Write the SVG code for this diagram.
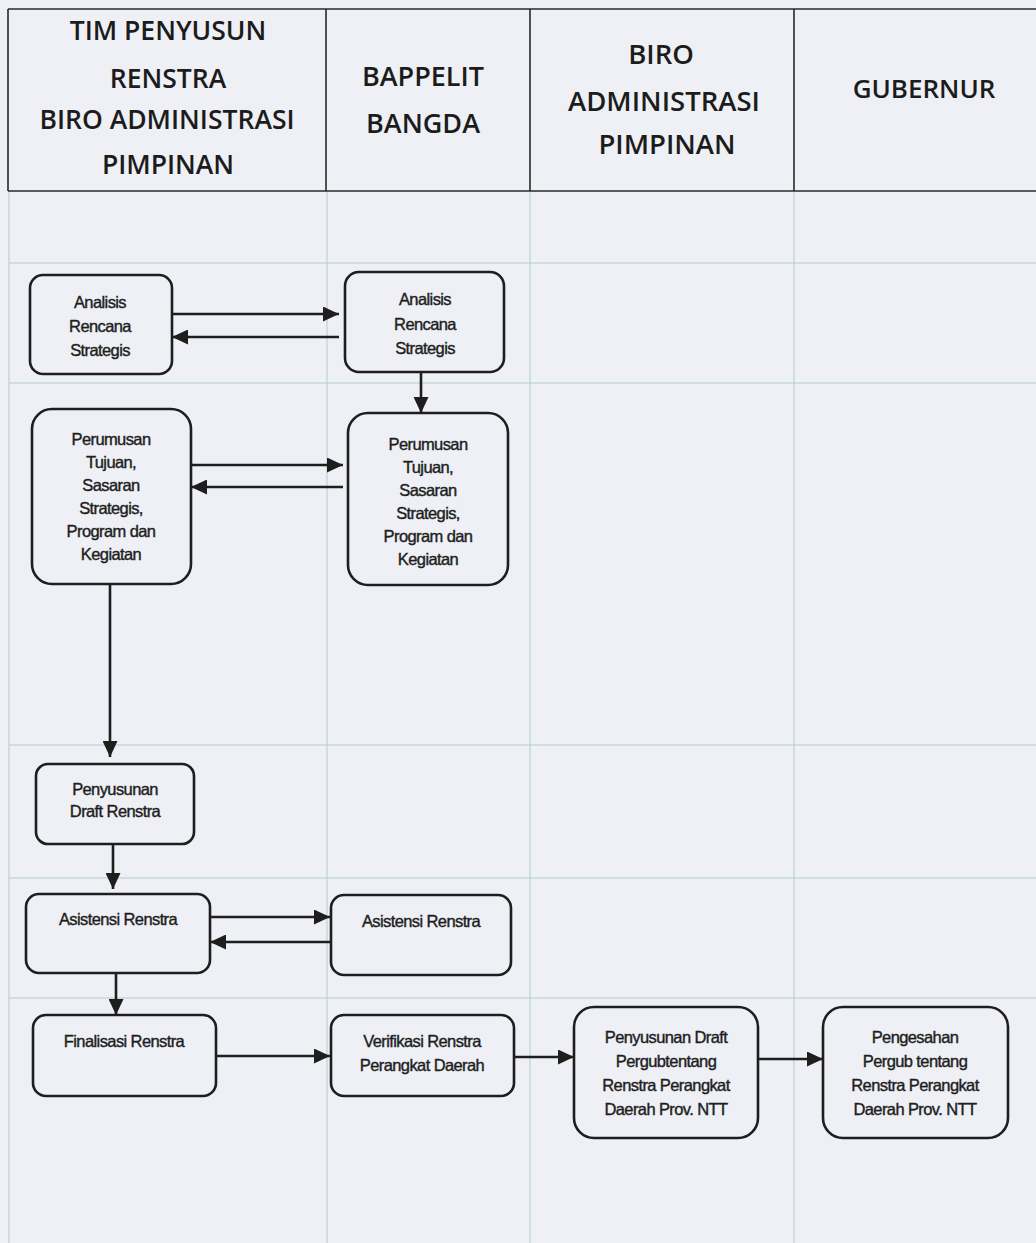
<svg xmlns="http://www.w3.org/2000/svg" width="1036" height="1243" viewBox="0 0 1036 1243">
  <style>
    .hdr { font-family: "Open Sans", "Liberation Sans", sans-serif; font-weight: 600; fill: #1c1c1c; text-anchor: middle; }
    .grid { stroke: #b3cccc; stroke-width: 1; fill: none; }
    .frame { stroke: #2a2a2a; stroke-width: 1.6; fill: none; }
    .box { fill: none; stroke: #1e1e1e; stroke-width: 2.6; }
    .lbl { font-family: "Liberation Sans", Arial, sans-serif; font-size: 16.5px; letter-spacing: -0.6px; fill: #1e1e1e; stroke: #1e1e1e; stroke-width: 0.4; text-anchor: middle; }
    .edge { stroke: #1e1e1e; stroke-width: 2.6; fill: none; marker-end: url(#arrow); }
  </style>
  <defs>
    <marker id="arrow" markerUnits="userSpaceOnUse" markerWidth="17" markerHeight="15" refX="16" refY="7.5" orient="auto">
      <path d="M0,0 L16,7.5 L0,15 Z" fill="#1e1e1e"/>
    </marker>
  </defs>

  <!-- paper -->
  <rect x="0" y="0" width="1036" height="1243" fill="#eef0f5"/>

  <!-- swimlane grid -->
  <g id="lanes">
    <path class="grid" d="M9,191 V1243 M327,191 V1243 M530,191 V1243 M794,191 V1243"/>
    <path class="grid" d="M9,263 H1036 M9,383 H1036 M9,745 H1036 M9,878 H1036 M9,998 H1036"/>
    <path class="frame" d="M8,9 H1036 M8,191 H1036 M8,9 V191 M326,9 V191 M530,9 V191 M794,9 V191"/>
  </g>

  <!-- lane headings -->
  <g id="header">
    <text class="hdr" font-size="26.5" x="168" y="40">TIM PENYUSUN</text>
    <text class="hdr" font-size="26.5" x="168" y="88">RENSTRA</text>
    <text class="hdr" font-size="26.5" x="167" y="129">BIRO ADMINISTRASI</text>
    <text class="hdr" font-size="26.5" x="168" y="174">PIMPINAN</text>
    <text class="hdr" font-size="27" x="423" y="86">BAPPELIT</text>
    <text class="hdr" font-size="27" x="423" y="133">BANGDA</text>
    <text class="hdr" font-size="27.5" x="661" y="64">BIRO</text>
    <text class="hdr" font-size="27.5" x="664" y="111">ADMINISTRASI</text>
    <text class="hdr" font-size="27.5" x="667" y="154">PIMPINAN</text>
    <text class="hdr" font-size="26" x="924" y="98">GUBERNUR</text>
  </g>

  <!-- process steps -->
  <g id="n-analisis-tim">
    <rect class="box" x="30" y="275" width="142" height="99" rx="13"/>
    <text class="lbl" x="100" y="308">Analisis</text>
    <text class="lbl" x="100" y="332">Rencana</text>
    <text class="lbl" x="100" y="356">Strategis</text>
  </g>
  <g id="n-analisis-bappelit">
    <rect class="box" x="345" y="272" width="159" height="100" rx="14"/>
    <text class="lbl" x="425" y="305">Analisis</text>
    <text class="lbl" x="425" y="330">Rencana</text>
    <text class="lbl" x="425" y="354">Strategis</text>
  </g>
  <g id="n-perumusan-tim">
    <rect class="box" x="32" y="409" width="159" height="175" rx="20"/>
    <text class="lbl" x="111" y="445">Perumusan</text>
    <text class="lbl" x="111" y="468">Tujuan,</text>
    <text class="lbl" x="111" y="491">Sasaran</text>
    <text class="lbl" x="111" y="514">Strategis,</text>
    <text class="lbl" x="111" y="537">Program dan</text>
    <text class="lbl" x="111" y="560">Kegiatan</text>
  </g>
  <g id="n-perumusan-bappelit">
    <rect class="box" x="348" y="413" width="160" height="172" rx="20"/>
    <text class="lbl" x="428" y="450">Perumusan</text>
    <text class="lbl" x="428" y="473">Tujuan,</text>
    <text class="lbl" x="428" y="496">Sasaran</text>
    <text class="lbl" x="428" y="519">Strategis,</text>
    <text class="lbl" x="428" y="542">Program dan</text>
    <text class="lbl" x="428" y="565">Kegiatan</text>
  </g>
  <g id="n-draft-renstra">
    <rect class="box" x="36" y="764" width="158" height="80" rx="12"/>
    <text class="lbl" x="115" y="795">Penyusunan</text>
    <text class="lbl" x="115" y="817">Draft Renstra</text>
  </g>
  <g id="n-asistensi-tim">
    <rect class="box" x="26" y="894" width="184" height="79" rx="13"/>
    <text class="lbl" x="118" y="925">Asistensi Renstra</text>
  </g>
  <g id="n-asistensi-bappelit">
    <rect class="box" x="331" y="895" width="180" height="80" rx="13"/>
    <text class="lbl" x="421" y="927">Asistensi Renstra</text>
  </g>
  <g id="n-finalisasi">
    <rect class="box" x="33" y="1015" width="183" height="81" rx="13"/>
    <text class="lbl" x="124" y="1047">Finalisasi Renstra</text>
  </g>
  <g id="n-verifikasi">
    <rect class="box" x="331" y="1015" width="183" height="81" rx="13"/>
    <text class="lbl" x="422" y="1047">Verifikasi Renstra</text>
    <text class="lbl" x="422" y="1071">Perangkat Daerah</text>
  </g>
  <g id="n-draft-pergub">
    <rect class="box" x="574" y="1007" width="184" height="131" rx="20"/>
    <text class="lbl" x="666" y="1043">Penyusunan Draft</text>
    <text class="lbl" x="666" y="1067">Pergubtentang</text>
    <text class="lbl" x="666" y="1091">Renstra Perangkat</text>
    <text class="lbl" x="666" y="1115">Daerah Prov. NTT</text>
  </g>
  <g id="n-pengesahan">
    <rect class="box" x="823" y="1007" width="185" height="131" rx="20"/>
    <text class="lbl" x="915" y="1043">Pengesahan</text>
    <text class="lbl" x="915" y="1067">Pergub tentang</text>
    <text class="lbl" x="915" y="1091">Renstra Perangkat</text>
    <text class="lbl" x="915" y="1115">Daerah Prov. NTT</text>
  </g>

  <!-- connectors -->
  <g id="connectors">
    <path class="edge" d="M172,314 H339"/>
    <path class="edge" d="M339,337 H172"/>
    <path class="edge" d="M421,372 V413"/>
    <path class="edge" d="M191,465 H343"/>
    <path class="edge" d="M343,487 H191"/>
    <path class="edge" d="M110,584 V757"/>
    <path class="edge" d="M113,844 V889"/>
    <path class="edge" d="M210,917 H330"/>
    <path class="edge" d="M330,942 H210"/>
    <path class="edge" d="M116,973 V1015"/>
    <path class="edge" d="M216,1056 H330"/>
    <path class="edge" d="M514,1057 H574"/>
    <path class="edge" d="M758,1059 H823"/>
  </g>
</svg>
